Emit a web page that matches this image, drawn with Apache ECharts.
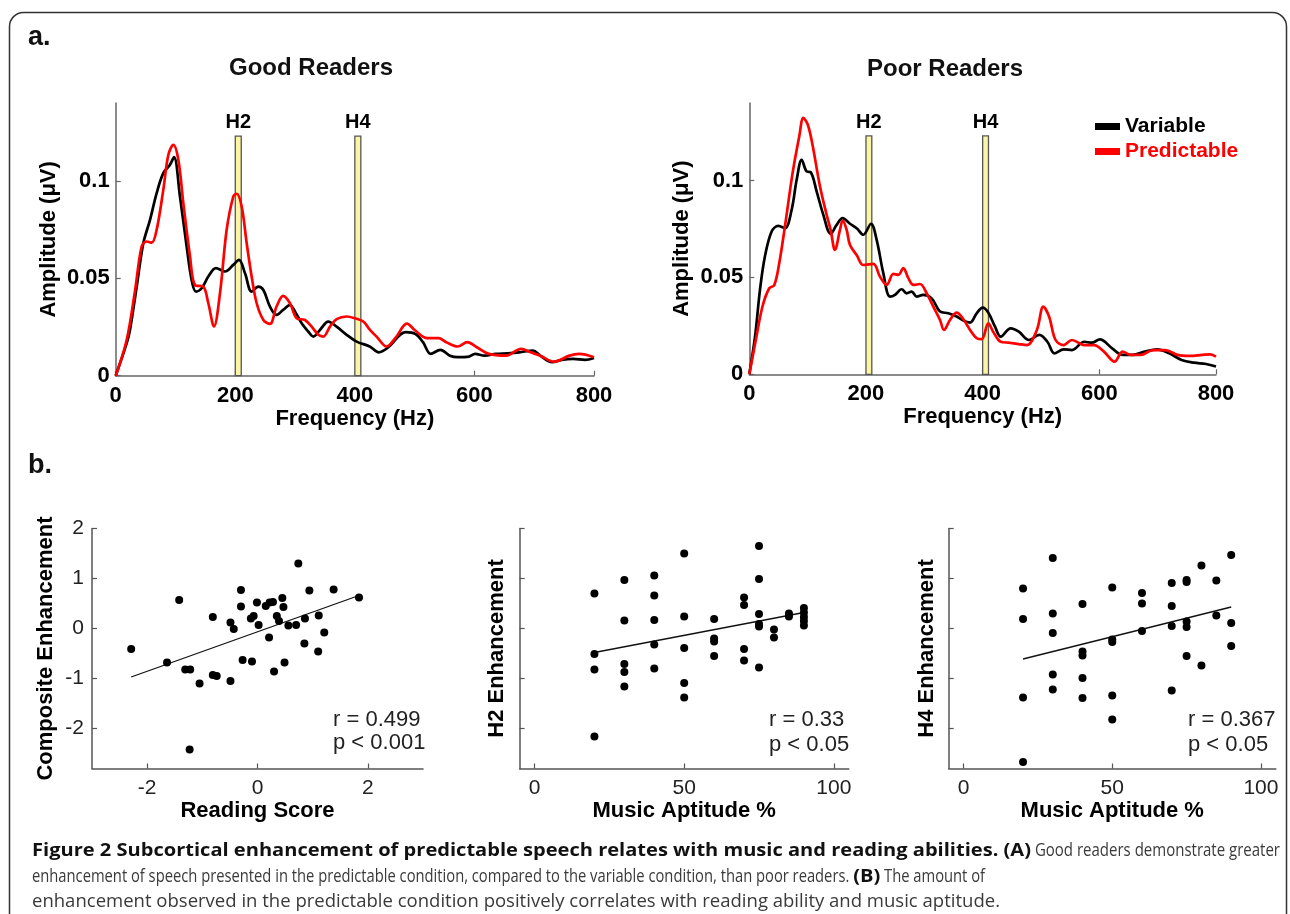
<!DOCTYPE html>
<html><head><meta charset="utf-8">
<script src="https://cdn.jsdelivr.net/npm/echarts@6/dist/echarts.min.js"></script>
<style>html,body{margin:0;padding:0;background:#fff}#c{width:1290px;height:914px}</style>
</head><body><div id="c"></div>
<script>
// ---------- DATA ----------
const freqTicks = [0, 200, 400, 600, 800];
const ampTicks = [0, 0.05, 0.1];
const harmonicBands = [{name:'H2', from:200, to:210}, {name:'H4', from:400, to:410}];
const bandTop = 0.123;

const goodVariable = [[0,0],[18.3,0.0166],[23.9,0.0235],[35.1,0.0457],[46.2,0.068],[57.4,0.080],[68.5,0.0937],[79.6,0.104],[90.8,0.1083],[97.5,0.1122],[107.5,0.092],[118.7,0.0663],[127,0.0492],[134.3,0.0432],[143.8,0.0449],[154.9,0.0509],[167.7,0.0552],[182.8,0.0535],[196.7,0.0569],[206.2,0.0595],[216.3,0.0526],[227.4,0.0432],[238.5,0.0457],[247,0.044],[258,0.0355],[269,0.0312],[280,0.0338],[291.5,0.0363],[300,0.0329],[311,0.0269],[322,0.0227],[330.5,0.0201],[341.6,0.0235],[355.6,0.0278],[369.5,0.0252],[386.3,0.021],[403,0.0175],[425,0.015],[440,0.012],[456,0.0146],[485,0.0224],[501,0.0215],[514,0.0172],[527,0.0112],[543,0.0133],[559,0.0103],[572,0.0095],[591,0.0098],[601,0.0112],[617,0.0103],[636,0.0112],[656,0.0115],[675,0.012],[698,0.0129],[710,0.0103],[730,0.0069],[746,0.0081],[765,0.0086],[785,0.0081],[800,0.0091]];
const goodPredictable = [[0,0],[18.3,0.0182],[32.3,0.0435],[43.4,0.0663],[51.8,0.0689],[60.2,0.0683],[68.5,0.0749],[79.6,0.0954],[88.1,0.1134],[96.4,0.1185],[104.8,0.1108],[113.1,0.0886],[124.3,0.0612],[132.6,0.0466],[146.6,0.0457],[154.9,0.0372],[164.4,0.0253],[174.4,0.0423],[185.6,0.0749],[196.7,0.092],[202.3,0.0934],[210.7,0.0869],[219.1,0.068],[227.4,0.0509],[235.8,0.0372],[247,0.0286],[258,0.0266],[269,0.0355],[280,0.041],[291.5,0.0372],[302.6,0.0295],[316.6,0.0286],[327.8,0.0252],[339,0.021],[347.2,0.0201],[358.4,0.0252],[369.5,0.029],[386.3,0.0304],[400,0.0295],[414.1,0.0278],[425.3,0.0235],[437,0.0198],[453,0.015],[469,0.0198],[487,0.0267],[501,0.0232],[521,0.0193],[540,0.0193],[553,0.0172],[572,0.015],[588,0.0172],[604,0.0146],[624,0.0112],[653,0.0103],[678,0.0138],[694,0.012],[710,0.0103],[733,0.0072],[759,0.0103],[775,0.0112],[800,0.0095]];
const poorVariable = [[0,0],[9.8,0.0194],[18.3,0.0436],[26.9,0.061],[38.3,0.0737],[49.8,0.0766],[61.2,0.0754],[72.6,0.0849],[81.2,0.1004],[89.8,0.1107],[98.3,0.1047],[105.2,0.1043],[115.5,0.0943],[126.9,0.0823],[139.4,0.0725],[149.7,0.0771],[160,0.0806],[172.6,0.0777],[184,0.0754],[195.4,0.072],[208.6,0.0777],[218.3,0.0694],[229.7,0.0522],[241.1,0.0401],[249.7,0.041],[261.2,0.0439],[269.7,0.0418],[278.3,0.0427],[286.9,0.0401],[298.3,0.041],[312.6,0.0392],[326.9,0.0324],[341.2,0.0315],[355.5,0.0298],[366.9,0.0277],[378.4,0.0267],[389.8,0.0315],[400.1,0.0344],[409.8,0.0318],[421.2,0.0246],[431,0.0194],[448,0.0237],[462,0.022],[479,0.0177],[497,0.0203],[511,0.0168],[523,0.0108],[539,0.0129],[553,0.0125],[574,0.0168],[587,0.0163],[601,0.018],[622,0.0134],[640,0.01],[657,0.01],[678,0.0117],[699,0.0129],[720,0.0108],[741,0.0074],[762,0.006],[783,0.0053],[800,0.004]];
const poorPredictable = [[0,0],[11.3,0.0179],[22.7,0.0351],[34.2,0.0444],[42.7,0.046],[51.3,0.0573],[62.7,0.0797],[74.2,0.1038],[85.6,0.1227],[92.7,0.1323],[100,0.129],[108,0.119],[121.2,0.0969],[132.6,0.0823],[139.4,0.0745],[146.8,0.0642],[155.4,0.0745],[160,0.0793],[166.9,0.0745],[172.6,0.0667],[184,0.0616],[195.4,0.0564],[212.6,0.057],[224,0.0504],[235.5,0.0461],[246.9,0.0518],[255.5,0.0513],[264,0.0548],[272.6,0.0496],[281.2,0.0461],[292.6,0.0466],[304,0.0418],[315.4,0.0349],[326.9,0.028],[333.7,0.0229],[344,0.028],[355.5,0.0318],[365.8,0.0289],[378.4,0.0229],[389.8,0.0186],[398.4,0.0181],[409.8,0.0263],[418,0.022],[431,0.0168],[445,0.0163],[462,0.0156],[476,0.0151],[493,0.0229],[504,0.0349],[514,0.0297],[525,0.0177],[539,0.0151],[553,0.0177],[574,0.0151],[591,0.0151],[608,0.0117],[626,0.0065],[640,0.0117],[654,0.01],[671,0.01],[692,0.0125],[713,0.0125],[734,0.01],[755,0.0095],[776,0.01],[790,0.0103],[800,0.0091]];

const readingTicks = [-2, 0, 2];
const musicTicks = [0, 50, 100];
const enhTicks = [-2, -1, 0, 1, 2];

const readingScore = [-2.29,-1.64,-1.42,-1.31,-1.22,-1.23,-1.05,-0.81,-0.81,-0.74,-0.49,-0.49,-0.43,-0.30,-0.30,-0.27,-0.12,-0.07,-0.10,-0.01,0.02,0.15,0.22,0.28,0.21,0.30,0.35,0.39,0.45,0.47,0.49,0.56,0.70,0.74,0.85,0.86,0.94,1.10,1.11,1.21,1.38,1.84];
const compositeEnh = [-0.41,-0.68,0.57,-0.82,-0.82,-2.42,-1.10,0.23,-0.93,-0.95,-1.05,0.12,-0.01,0.77,0.44,-0.63,0.20,0.25,-0.66,0.52,0.07,0.45,0.52,0.53,-0.18,-0.86,0.25,0.15,0.61,0.43,-0.68,0.06,0.07,1.30,-0.30,0.20,0.76,-0.46,0.26,-0.08,0.78,0.62];
const readingFitX = [-2.29, 1.84];
const readingFitY = [-0.97, 0.66];

const musicH2 = [20,20,20,20,30,30,30,30,30,40,40,40,40,40,50,50,50,50,50,60,60,60,60,70,70,70,70,75,75,75,75,75,75,80,80,85,85,90,90,90,90,90];
const h2Enh = [0.70,-0.51,-0.82,-2.16,0.97,0.16,-0.71,-0.87,-1.16,1.06,0.66,0.17,-0.32,-0.80,1.50,0.24,-0.39,-1.09,-1.38,0.19,-0.20,-0.26,-0.55,0.62,0.47,-0.41,-0.64,1.65,0.99,0.29,0.09,0.04,-0.78,-0.02,-0.18,0.30,0.24,0.41,0.32,0.23,0.15,0.06];
const h2FitX = [20, 90];
const h2FitY = [-0.48, 0.32];

const musicH4 = [20,20,20,20,30,30,30,30,30,40,40,40,40,40,50,50,50,50,50,60,60,60,70,70,70,70,75,75,75,75,75,80,80,85,85,90,90,90];
const h4Enh = [0.80,0.19,-1.38,-2.67,1.41,0.30,-0.09,-0.92,-1.22,0.49,-0.46,-0.54,-0.99,-1.39,0.82,-0.22,-0.27,-1.34,-1.82,0.71,0.50,-0.05,0.91,0.45,0.05,-1.24,0.97,0.93,0.14,0.03,-0.55,1.26,-0.74,0.96,0.26,1.47,0.11,-0.35];
const h4FitX = [20, 90];
const h4FitY = [-0.61, 0.43];

const stats = [['r = 0.499','p < 0.001'],['r = 0.33','p < 0.05'],['r = 0.367','p < 0.05']];

// ---------- CHART ----------
const FF = '"Liberation Sans", Arial, Helvetica, sans-serif';
const pair = (xs, ys) => xs.map((x, i) => [x, ys[i]]);

function topX(gi){
  return {gridIndex:gi, type:'value', min:0, max:800, interval:200,
    name:'Frequency (Hz)', nameLocation:'middle', nameGap:32,
    nameTextStyle:{fontFamily:FF, fontSize:22, fontWeight:'bold', color:'#000'},
    axisLine:{show:true, onZero:false, lineStyle:{color:'#666', width:1.5}},
    axisTick:{show:true, inside:true, length:5, lineStyle:{color:'#666', width:1.2}},
    splitLine:{show:false},
    axisLabel:{fontFamily:FF, fontSize:22, fontWeight:'bold', color:'#000', margin:9}};
}
function topY(gi){
  return {gridIndex:gi, type:'value', min:0, max:0.14,
    name:'Amplitude (\u03bcV)', nameLocation:'middle', nameGap:56,
    nameTextStyle:{fontFamily:FF, fontSize:22, fontWeight:'bold', color:'#000'},
    axisLine:{show:true, onZero:false, lineStyle:{color:'#666', width:1.5}},
    axisTick:{show:true, inside:true, length:5, customValues:ampTicks, lineStyle:{color:'#666', width:1.2}},
    splitLine:{show:false},
    axisLabel:{fontFamily:FF, fontSize:22, fontWeight:'bold', color:'#000', margin:6, customValues:ampTicks,
      formatter: v => v === 0 ? '0' : String(+v.toFixed(2))}};
}
function scX(gi, min, max, ticks, name){
  return {gridIndex:gi, type:'value', min:min, max:max,
    name:name, nameLocation:'middle', nameGap:31,
    nameTextStyle:{fontFamily:FF, fontSize:22, fontWeight:'bold', color:'#000'},
    axisLine:{show:true, onZero:false, lineStyle:{color:'#555', width:1.5}},
    axisTick:{show:true, inside:true, length:5, customValues:ticks, lineStyle:{color:'#555', width:1.2}},
    splitLine:{show:false},
    axisLabel:{fontFamily:FF, fontSize:21, color:'#222', margin:9, customValues:ticks}};
}
function scY(gi, name, showLabels, gap){
  return {gridIndex:gi, type:'value', min:-2.8, max:2,
    name:name, nameLocation:'middle', nameGap:gap,
    nameTextStyle:{fontFamily:FF, fontSize:22, fontWeight:'bold', color:'#000'},
    axisLine:{show:true, onZero:false, lineStyle:{color:'#555', width:1.5}},
    axisTick:{show:true, inside:true, length:5, customValues:enhTicks, lineStyle:{color:'#555', width:1.2}},
    splitLine:{show:false},
    axisLabel:{show:showLabels, fontFamily:FF, fontSize:21, color:'#222', margin:8, customValues:enhTicks}};
}

function bandSeries(ai){
  return {type:'line', xAxisIndex:ai, yAxisIndex:ai, data:[], z:1, silent:true,
    markArea:{silent:true,
      itemStyle:{color:'#fbf4a4', borderColor:'#555', borderWidth:1.3},
      label:{show:true, position:'top', distance:3, fontFamily:FF, fontSize:20, fontWeight:'bold', color:'#000'},
      data: harmonicBands.map(b => [{name:b.name, xAxis:b.from, yAxis:0}, {xAxis:b.to, yAxis:bandTop}])}};
}
function curve(ai, name, data, color, z){
  return {type:'line', name:name, xAxisIndex:ai, yAxisIndex:ai, data:data, smooth:0.35,
    symbol:'none', showSymbol:false, z:z,
    lineStyle:{color:color, width:2.7}, itemStyle:{color:color}};
}
function dots(ai, xs, ys){
  return {type:'scatter', xAxisIndex:ai, yAxisIndex:ai, data:pair(xs, ys), symbolSize:8,
    itemStyle:{color:'#000', opacity:1}, z:4};
}
function fit(ai, xs, ys){
  return {type:'line', xAxisIndex:ai, yAxisIndex:ai, data:pair(xs, ys), symbol:'none',
    lineStyle:{color:'#111', width:1.3}, z:3};
}

const grids = [
  {left:115.7, top:103, width:478.3, height:272.7},
  {left:749.3, top:103, width:466.7, height:271.3},
  {left:92, top:528.5, width:331, height:240},
  {left:519.6, top:528.5, width:329.2, height:240},
  {left:948.7, top:528.5, width:327.1, height:240}
].map(g => Object.assign(g, {outerBoundsMode:'none', containLabel:false}));

const graphicTxt = (text, x, y, font, color, align) => ({type:'text', x:x, y:y, silent:true,
  style:{text:text, font:font, fill:color||'#000', align:align||'left', textAlign:align||'left', verticalAlign:'middle', textVerticalAlign:'middle'}});

const statPos = [[333,720,743],[769,720,745],[1188,720,745]];
const statGraphics = [];
stats.forEach((s, i) => {
  statGraphics.push(graphicTxt(s[0], statPos[i][0], statPos[i][1], '22px ' + FF, '#222'));
  statGraphics.push(graphicTxt(s[1], statPos[i][0], statPos[i][2], '22px ' + FF, '#222'));
});

// caption (condensed look obtained by horizontal scaling of each run)
const CF = '"Open Sans", "Noto Sans", sans-serif';
const capLines = [
  [['b','Figure 2 Subcortical enhancement of predictable speech relates with music and reading abilities. (A)'],['r',' Good readers demonstrate greater']],
  [['r','enhancement of speech presented in the predictable condition, compared to the variable condition, than poor readers. '],['b','(B)'],['r',' The amount of']],
  [['r','enhancement observed in the predictable condition positively correlates with reading ability and music aptitude.']]
];
const capWidths = [1248, 953, 968];
const capY = [851, 877, 902];
const capX0 = 32;
const boldSpan = 999;
const ctx = document.createElement('canvas').getContext('2d');
const fontOf = k => (k === 'b' ? '700 ' : '400 ') + '18px ' + CF;
const mw = p => { ctx.font = fontOf(p[0]); return ctx.measureText(p[1]).width; };
const sb = boldSpan / mw(capLines[0][0]);
const capGraphics = [];
capLines.forEach((parts, i) => {
  let bw = 0, rw = 0;
  parts.forEach(p => { if (p[0] === 'b') bw += mw(p); else rw += mw(p); });
  const sr = (capWidths[i] - bw * sb) / rw;
  let x = capX0;
  parts.forEach(p => {
    const s = p[0] === 'b' ? sb : sr;
    capGraphics.push({type:'text', x:x, y:capY[i], scaleX:s, silent:true,
      style:{text:p[1], font:fontOf(p[0]), fill:p[0] === 'b' ? '#111' : '#3a3a3a',
        verticalAlign:'middle', textVerticalAlign:'middle'}});
    x += mw(p) * s;
  });
});

const option = {
  animation:false,
  backgroundColor:'#fff',
  grid: grids,
  xAxis:[topX(0), topX(1),
    scX(2, -3, 3, readingTicks, 'Reading Score'),
    scX(3, -5, 105, musicTicks, 'Music Aptitude %'),
    scX(4, -5, 105, musicTicks, 'Music Aptitude %')],
  yAxis:[topY(0), topY(1),
    scY(2, 'Composite Enhancement', true, 35),
    scY(3, 'H2 Enhancement', false, 12),
    scY(4, 'H4 Enhancement', false, 11)],
  legend:{left:1090, top:111, orient:'vertical', icon:'rect', itemWidth:25, itemHeight:7, itemGap:4,
    selectedMode:false,
    textStyle:{fontFamily:FF, fontSize:21, fontWeight:'bold'},
    data:[{name:'Variable', textStyle:{color:'#000'}}, {name:'Predictable', textStyle:{color:'#f00'}}]},
  series:[
    bandSeries(0), bandSeries(1),
    curve(0, 'Variable', goodVariable, '#000', 3),
    curve(0, 'Predictable', goodPredictable, '#f00', 4),
    curve(1, 'Variable', poorVariable, '#000', 3),
    curve(1, 'Predictable', poorPredictable, '#f00', 4),
    dots(2, readingScore, compositeEnh), fit(2, readingFitX, readingFitY),
    dots(3, musicH2, h2Enh), fit(3, h2FitX, h2FitY),
    dots(4, musicH4, h4Enh), fit(4, h4FitX, h4FitY)
  ],
  graphic:[
    {type:'rect', silent:true, shape:{x:9.5, y:12.5, width:1277, height:1000, r:14},
      style:{fill:'none', stroke:'#333', lineWidth:1.5}},
    graphicTxt('a.', 28, 38, 'bold 27px ' + FF, '#111'),
    graphicTxt('b.', 28, 466, 'bold 27px ' + FF, '#111'),
    graphicTxt('Good Readers', 311, 68, 'bold 24px ' + FF, '#111', 'center'),
    graphicTxt('Poor Readers', 945, 69, 'bold 24px ' + FF, '#111', 'center')
  ].concat(statGraphics, capGraphics)
};
const chart = echarts.init(document.getElementById('c'), null, {renderer:'canvas'});
chart.setOption(option);
</script></body></html>
